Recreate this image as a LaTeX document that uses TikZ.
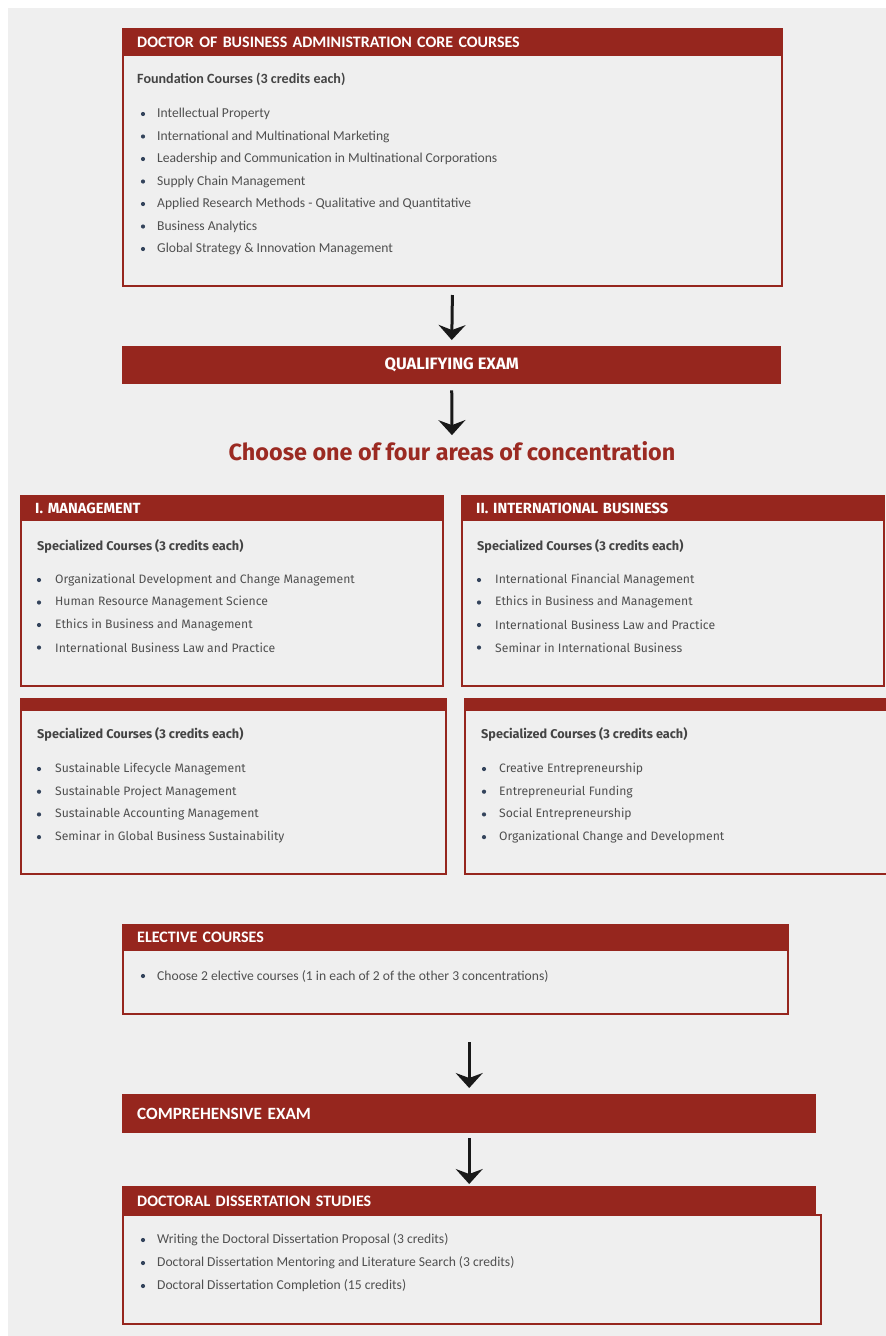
\documentclass[tikz,border=0pt]{standalone}
\usepackage{fontspec}
\setmainfont{Fira Sans}
\newfontfamily\narrowf{Carlito}
\usetikzlibrary{arrows.meta,calc}
\definecolor{dred}{HTML}{96261E}
\definecolor{bgc}{HTML}{EFEFEF}
\definecolor{txtc}{HTML}{505050}
\definecolor{headc}{HTML}{444444}
\definecolor{bulc}{HTML}{34445C}
\definecolor{choosec}{HTML}{9B2A22}
\tikzset{
  bodybox/.style={draw=dred, line width=2pt, fill=bgc, anchor=north west, inner sep=0pt},
  hdrbox/.style={fill=dred, draw=none, anchor=north west, inner xsep=15pt, inner ysep=0pt, text=white, align=left},
  nhdr/.style={hdrbox, font=\narrowf\bfseries\fontsize{16}{18}\selectfont},
  whdr/.style={hdrbox, font=\bfseries\fontsize{14.7}{17}\selectfont},
  nitem/.style={anchor=west, inner sep=0pt, text=txtc, font=\narrowf\fontsize{13.6}{16}\selectfont},
  witem/.style={anchor=west, inner sep=0pt, text=txtc, font=\fontsize{12.2}{14}\selectfont},
  nsub/.style={anchor=west, inner sep=0pt, text=headc, font=\narrowf\bfseries\fontsize{14.1}{16}\selectfont},
  wsub/.style={anchor=west, inner sep=0pt, text=headc, font=\bfseries\fontsize{12.7}{15}\selectfont},
  bul/.style={fill=bulc},
  flowarrow/.style={draw=black!90, line width=3pt, -{Stealth[length=15pt,width=27pt,inset=5pt]}}
}
\begin{document}
\begin{tikzpicture}[x=1pt,y=-1pt]
\useasboundingbox (0,0) rectangle (886,1336);
\fill[white] (0,0) rectangle (886,1336);
\fill[bgc] (8,8) rectangle (886,1336);

% ---------- Core courses ----------
\node[bodybox, minimum width=659pt, minimum height=257pt] (b1) at (122,28) {};
\node[nhdr, minimum height=28pt, text width=629pt] (h1) at (122,28) {DOCTOR OF BUSINESS ADMINISTRATION CORE COURSES};
\node[nsub] (s1) at (137,79) {Foundation Courses (3 credits each)};
\foreach \t [count=\i] in {Intellectual Property, International and Multinational Marketing, Leadership and Communication in Multinational Corporations, Supply Chain Management, Applied Research Methods - Qualitative and Quantitative, Business Analytics, Global Strategy \& Innovation Management}{
  \node[nitem] (c\i) at (157,{114+(\i-1)*22.5}) {\t};
  \fill[bul] ($(c\i.west)+(-14,0)$) circle (2.1pt);
}

% ---------- Qualifying exam ----------
\node[fill=dred, anchor=north west, minimum width=659pt, minimum height=38pt, inner sep=0pt, text=white, font=\bfseries\fontsize{16.5}{19}\selectfont] (q) at (122,346) {QUALIFYING EXAM};

\node[inner sep=0pt, text=choosec, font=\bfseries\fontsize{23.4}{27}\selectfont] (ch) at (452,451) {Choose one of four areas of concentration};

% ---------- I. Management ----------
\node[bodybox, minimum width=422pt, minimum height=190pt] (bI) at (20,495) {};
\node[whdr, minimum height=26pt, text width=392pt] (hI) at (20,495) {I. MANAGEMENT};
\node[wsub] (sI) at (37,546) {Specialized Courses (3 credits each)};
\foreach \t [count=\i] in {Organizational Development and Change Management, Human Resource Management Science, Ethics in Business and Management, International Business Law and Practice}{
  \node[witem] (m\i) at (55,{580+(\i-1)*22.5}) {\t};
  \fill[bul] ($(m\i.west)+(-16,0)$) circle (2.1pt);
}

% ---------- II. International Business ----------
\node[bodybox, minimum width=422pt, minimum height=190pt] (bII) at (461,495) {};
\node[whdr, minimum height=26pt, text width=392pt] (hII) at (461,495) {II. INTERNATIONAL BUSINESS};
\node[wsub] (sII) at (477,546) {Specialized Courses (3 credits each)};
\foreach \t [count=\i] in {International Financial Management, Ethics in Business and Management, International Business Law and Practice, Seminar in International Business}{
  \node[witem] (ib\i) at (495,{580+(\i-1)*22.5}) {\t};
  \fill[bul] ($(ib\i.west)+(-16,0)$) circle (2.1pt);
}

% ---------- III (header cut off) ----------
\node[bodybox, minimum width=425pt, minimum height=175pt] (bIII) at (20,698) {};
\node[fill=dred, anchor=north west, minimum width=425pt, minimum height=13pt, inner sep=0pt] (hIII) at (20,698) {};
\node[wsub] (sIII) at (37,734) {Specialized Courses (3 credits each)};
\foreach \t [count=\i] in {Sustainable Lifecycle Management, Sustainable Project Management, Sustainable Accounting Management, Seminar in Global Business Sustainability}{
  \node[witem] (su\i) at (55,{769+(\i-1)*22.7}) {\t};
  \fill[bul] ($(su\i.west)+(-16,0)$) circle (2.1pt);
}

% ---------- IV (header cut off) ----------
\node[bodybox, minimum width=424pt, minimum height=175pt] (bIV) at (464,698) {};
\node[fill=dred, anchor=north west, minimum width=424pt, minimum height=13pt, inner sep=0pt] (hIV) at (464,698) {};
\node[wsub] (sIV) at (481,734) {Specialized Courses (3 credits each)};
\foreach \t [count=\i] in {Creative Entrepreneurship, Entrepreneurial Funding, Social Entrepreneurship, Organizational Change and Development}{
  \node[witem] (en\i) at (499,{769+(\i-1)*22.7}) {\t};
  \fill[bul] ($(en\i.west)+(-15,0)$) circle (2.1pt);
}

% ---------- Elective courses ----------
\node[bodybox, minimum width=665pt, minimum height=89pt] (bE) at (122,924) {};
\node[nhdr, minimum height=27pt, text width=635pt] (hE) at (122,924) {ELECTIVE COURSES};
\node[nitem] (e1) at (157,976) {Choose 2 elective courses (1 in each of 2 of the other 3 concentrations)};
\fill[bul] ($(e1.west)+(-14,0)$) circle (2.1pt);

% ---------- Comprehensive exam ----------
\node[hdrbox, font=\narrowf\bfseries\fontsize{17.2}{20}\selectfont, minimum height=39pt, text width=664pt] (ce) at (122,1094) {COMPREHENSIVE EXAM};

% ---------- Doctoral dissertation ----------
\node[bodybox, minimum width=698pt, minimum height=109pt] (bD) at (122,1214) {};
\node[nhdr, minimum height=30pt, text width=664pt] (hD) at (122,1186) {DOCTORAL DISSERTATION STUDIES};
\foreach \t [count=\i] in {Writing the Doctoral Dissertation Proposal (3 credits), Doctoral Dissertation Mentoring and Literature Search (3 credits), Doctoral Dissertation Completion (15 credits)}{
  \node[nitem] (d\i) at (157,{1240+(\i-1)*23}) {\t};
  \fill[bul] ($(d\i.west)+(-14,0)$) circle (2.1pt);
}

% ---------- Arrows ----------
\draw[flowarrow, shorten <=8pt, shorten >=6pt] (b1.south) -- (q.north);
\draw[flowarrow, shorten <=6pt, shorten >=6pt] (q.south) -- (ch.north);
\coordinate (e3) at (ce.north |- bE.south);
\draw[flowarrow, shorten <=27pt, shorten >=6pt] (e3) -- (ce.north);
\draw[flowarrow, shorten <=5pt, shorten >=2pt] (ce.south) -- (hD.north);
\end{tikzpicture}
\end{document}
